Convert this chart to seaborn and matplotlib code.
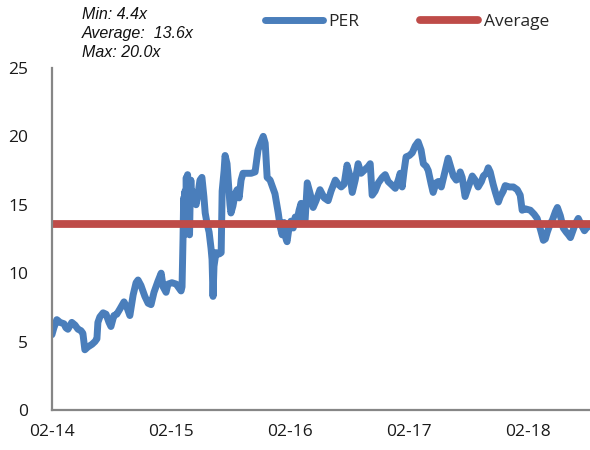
import matplotlib
matplotlib.use("Agg")
import matplotlib.pyplot as plt
import matplotlib.dates as mdates
import numpy as np
import pandas as pd
import seaborn as sns

# PER history: observation dates (days after the first trading day) and values
start_date = "2014-02-03"
day_offsets = [
    0, 6, 15, 25, 37, 43, 49, 61, 71, 80, 89, 95, 101, 110, 123, 132, 138, 141,
    147, 157, 166, 175, 181, 190, 199, 209, 221, 230, 239, 249, 258, 264, 273,
    285, 295, 304, 313, 325, 335, 341, 350, 356, 368, 381, 390, 396, 399, 402,
    404, 406, 408, 410, 412, 414, 416, 418, 420, 422, 424, 426, 428, 430, 436,
    442, 448, 454, 460, 466,
    470, 476, 482, 488, 491, 494, 497, 503, 513, 519, 522, 528, 531, 537, 543,
    546, 549, 555, 562, 568, 574, 580, 586, 598, 611, 623, 632, 641, 648, 654,
    660, 669, 678, 684, 694, 700, 706, 712, 718, 721, 727, 733, 740, 746, 752,
    758, 764, 770, 776, 783, 792, 801, 810, 822, 835, 847, 856, 869, 878, 887,
    896, 905, 915, 921, 930, 939, 948, 961, 970, 976, 982, 991, 1001, 1013,
    1022, 1031, 1040, 1053, 1062, 1068, 1074, 1080, 1086, 1096, 1105, 1114,
    1123, 1132, 1139, 1148, 1154, 1163, 1169, 1178, 1185, 1194, 1200, 1209,
    1215, 1225, 1231, 1240, 1246, 1252, 1258, 1267, 1277, 1289, 1298, 1307,
    1317, 1323, 1332, 1338, 1344, 1353, 1360, 1369, 1375, 1384, 1390, 1403,
    1415, 1427, 1436, 1442, 1452, 1467, 1479, 1488, 1498, 1507, 1513, 1519,
    1528, 1535, 1544, 1550, 1559, 1568, 1577, 1584, 1590, 1599, 1605, 1614,
    1624, 1633, 1639, 1645,
]
per_values = [
    5.5, 6.0, 6.6, 6.4, 6.3, 6.0, 5.9, 6.4, 6.2, 5.9, 5.8, 5.6, 4.4, 4.6, 4.8,
    5.0, 5.2, 6.4, 6.8, 7.1, 7.0, 6.4, 6.1, 6.9, 7.0, 7.4, 7.9, 7.5, 6.9, 8.4,
    9.3, 9.5, 9.1, 8.3, 7.8, 7.7, 8.6, 9.4, 10.0, 9.0, 8.6, 9.2, 9.3, 9.2, 8.9,
    8.7, 9.0, 12.5,
    15.5, 12.8, 16.0, 13.2, 17.0, 14.0, 17.2, 13.5, 16.8, 12.8, 15.5, 16.8,
    15.8, 16.0, 15.4,
    15.0, 15.8, 16.8, 17.0, 15.6, 14.4, 13.6, 13.0, 11.8, 11.0, 8.3, 10.5, 11.5,
    11.4, 11.5, 16.0, 17.5, 18.6, 18.0, 16.0, 15.0, 14.4, 14.9, 15.8, 16.1,
    15.5, 16.8, 17.3, 17.3, 17.3, 17.4, 19.0, 19.6, 20.0, 19.5, 17.0, 16.8,
    16.2, 15.8, 14.4, 13.4, 12.8, 13.7, 12.5, 12.3, 13.3, 13.8, 13.3, 14.1,
    13.9, 14.6, 15.1, 14.0, 13.7, 16.6, 15.8, 14.8, 15.3, 16.1, 15.5, 15.3,
    16.0, 16.8, 16.5, 16.3, 16.5, 17.9, 17.0, 15.9, 16.8, 18.0, 17.3, 17.6,
    17.8, 18.0, 15.7, 16.0, 16.6, 17.0, 17.2, 16.7, 16.5, 16.2, 16.8, 17.3,
    16.3, 17.5, 18.5, 18.6, 18.8, 19.3, 19.6, 19.0, 18.0, 17.8, 17.5, 16.5,
    15.9, 16.6, 16.7, 16.3, 16.9, 17.8, 18.4, 17.6, 17.1, 16.8, 16.9, 17.4,
    17.0, 15.6, 16.3, 17.1, 16.8, 16.3, 16.7, 17.1, 17.3, 17.7, 17.4, 16.5,
    15.9, 15.2, 15.6, 16.0, 16.4, 16.3, 16.3, 16.1, 15.7, 14.6, 14.7, 14.6,
    14.3, 14.0, 13.2, 12.4, 12.5, 13.0, 13.6, 13.9, 14.5, 14.8, 14.2, 13.3,
    13.0, 12.8, 12.6, 13.2, 13.6, 14.0, 13.5, 13.1, 13.3, 13.4,
]
average_per = 13.6
min_per = 4.4
max_per = 20.0
tick_dates = ["2014-02-03", "2015-02-03", "2016-02-03", "2017-02-03", "2018-02-03"]
y_ticks = [0, 5, 10, 15, 20, 25]
axis_end = "2018-08-11"

blue = "#4a7ebb"
red = "#be4b48"
grey = "#868686"

dates = pd.Timestamp(start_date) + pd.to_timedelta(day_offsets, unit="D")
df = pd.DataFrame({"date": dates, "PER": per_values})
avg_df = pd.DataFrame({"date": pd.to_datetime([start_date, axis_end]),
                       "Average": [average_per, average_per]})

sns.set_style("white")
plt.rcParams["font.family"] = ["Open Sans", "DejaVu Sans"]

fig = plt.figure(figsize=(5.9, 4.5), dpi=100)
ax = fig.add_axes([0.088, 0.089, 0.912, 0.760])

sns.lineplot(data=df, x="date", y="PER", ax=ax, color=blue, linewidth=5.0,
             label="PER", legend=False, solid_joinstyle="round",
             solid_capstyle="round")
sns.lineplot(data=avg_df, x="date", y="Average", ax=ax, color=red,
             linewidth=5.6, label="Average", legend=False)

ax.set_xlim(pd.Timestamp(start_date), pd.Timestamp(axis_end))
ax.set_ylim(0, 25)
ax.set_yticks(y_ticks)
ax.set_xticks(pd.to_datetime(tick_dates))
ax.xaxis.set_major_formatter(mdates.DateFormatter("%m-%y"))
ax.set_xlabel("")
ax.set_ylabel("")

for side in ["top", "right"]:
    ax.spines[side].set_visible(False)
for side in ["left", "bottom"]:
    ax.spines[side].set_color(grey)
    ax.spines[side].set_linewidth(1.6)

ax.tick_params(axis="both", direction="in", colors=grey, width=1.4,
               labelsize=12.5, labelcolor="#1a1a1a")
ax.tick_params(axis="y", length=5, pad=17)
ax.tick_params(axis="x", length=6, pad=10)

handles, labels = ax.get_legend_handles_labels()
fig.legend(handles, labels, loc="center", bbox_to_anchor=(0.69, 0.951),
           ncol=2, frameon=False, fontsize=12.5, handlelength=3.3,
           handletextpad=0.35, columnspacing=3.5)

stats = [f"Min: {min_per:.1f}x", f"Average:  {average_per:.1f}x", f"Max: {max_per:.1f}x"]
for i, line in enumerate(stats):
    fig.text(0.139, 0.968 - i * 0.0425, line, fontsize=11.5, style="italic",
             family=["Liberation Sans", "DejaVu Sans"], va="center", ha="left",
             color="#111111")

fig.savefig("out.png", dpi=100)
